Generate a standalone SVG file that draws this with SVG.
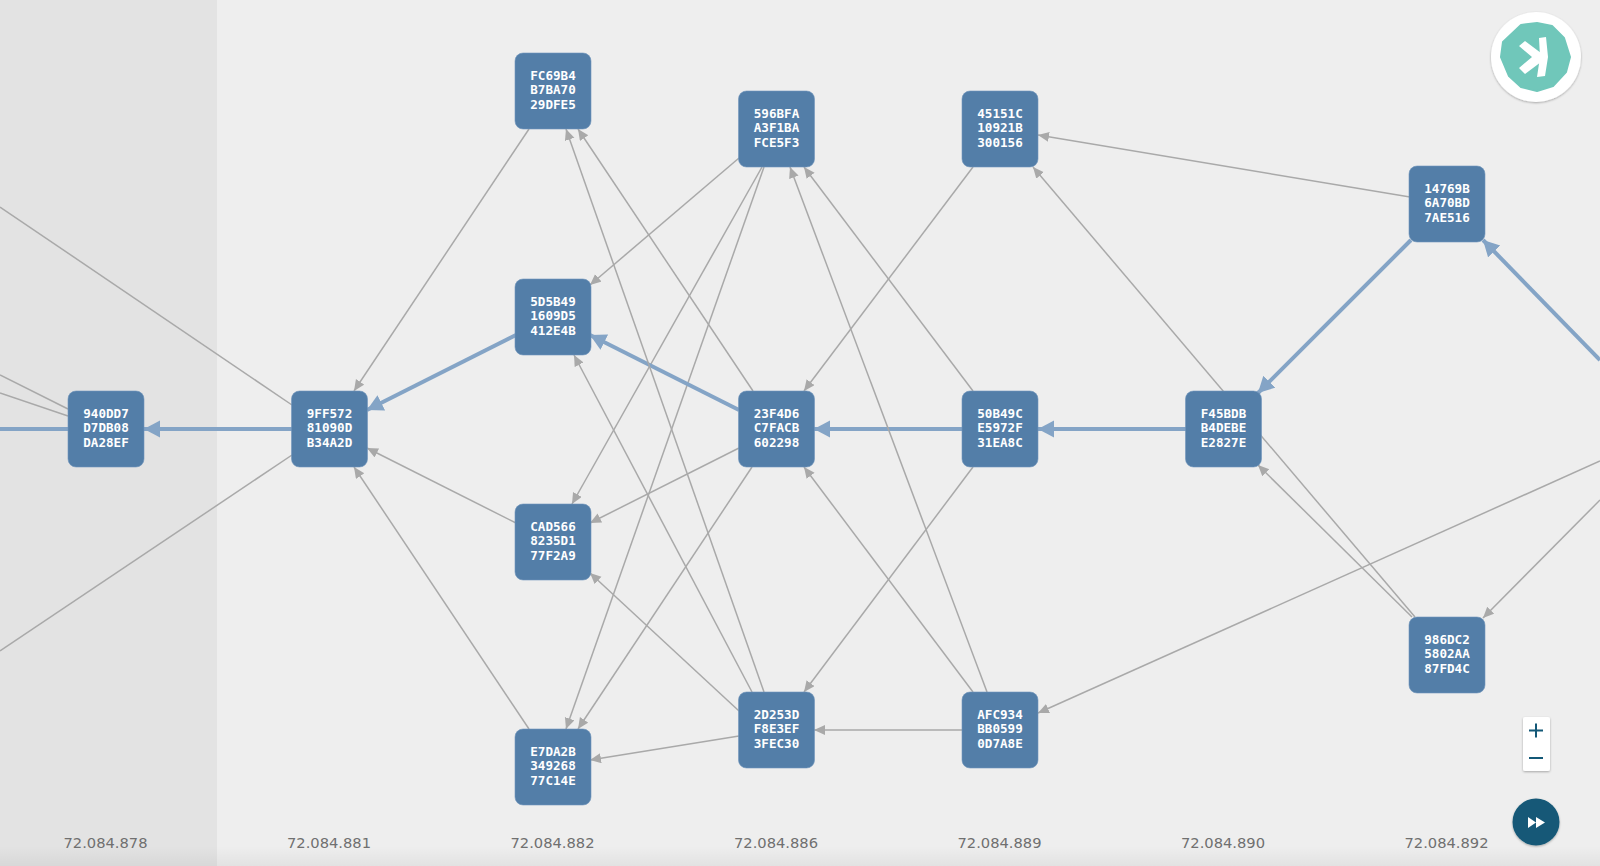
<svg xmlns="http://www.w3.org/2000/svg" width="1600" height="866" viewBox="0 0 1600 866">
<style>
.n rect{fill:#537ea8;stroke:#7096bc;stroke-width:.6}
.n text{font-family:"DejaVu Sans Mono",monospace;font-weight:700;font-size:12.6px;fill:#fff;text-anchor:middle}
.e{stroke:#a9a9a9;stroke-width:1.5;fill:none}
.a{marker-end:url(#g)}
.b{stroke:#84a4c6;stroke-width:4;fill:none}
.ba{marker-end:url(#h)}
.l{font-family:"DejaVu Sans",sans-serif;font-size:14.7px;fill:#707070;text-anchor:middle}
</style>
<defs>
<marker id="g" markerUnits="userSpaceOnUse" markerWidth="12" markerHeight="12" refX="11" refY="5" orient="auto"><path d="M0 0L11 5L0 10Z" fill="#a9a9a9"/></marker>
<marker id="h" markerUnits="userSpaceOnUse" markerWidth="18" markerHeight="18" refX="16" refY="8.500" orient="auto"><path d="M0 0L16 8.500L0 17Z" fill="#84a4c6"/></marker>
<linearGradient id="fade" x1="0" y1="0" x2="0" y2="1"><stop offset="0" stop-color="#000" stop-opacity="0"/><stop offset="1" stop-color="#000" stop-opacity="0.05"/></linearGradient>
<filter id="s" x="-20%" y="-20%" width="140%" height="140%"><feDropShadow dx="0" dy="1" stdDeviation="1" flood-color="#000" flood-opacity="0.3"/></filter>
</defs>
<rect width="1600" height="866" fill="#eeeeee"/>
<rect width="217" height="866" fill="#e3e3e3"/>
<rect y="846" width="1600" height="20" fill="url(#fade)"/>
<g id="connectors">
<path class="e" d="M0 207L292 405"/><path class="e" d="M292 455L0 651"/>
<path class="e" d="M68 409L0 375"/><path class="e" d="M68 416L0 393"/>
<path class="b" d="M68 429H0"/>
<path class="b ba" d="M292 429H144"/>
<path class="e a" d="M529 129L354 391"/>
<path class="b ba" d="M516 335L367 410"/>
<path class="e a" d="M516 523L367 448"/>
<path class="e a" d="M529 729L354 467"/>
<path class="e a" d="M739 158L590 285"/>
<path class="e a" d="M762 167L572 504"/>
<path class="e a" d="M764 167L566 729"/>
<path class="e a" d="M753 391L578 129"/>
<path class="b ba" d="M739 410L590 335"/>
<path class="e a" d="M739 448L590 523"/>
<path class="e a" d="M752 467L578 729"/>
<path class="e a" d="M764 692L566 129"/>
<path class="e a" d="M752 692L574 355"/>
<path class="e a" d="M739 711L590 573"/>
<path class="e a" d="M739 736L590 760"/>
<path class="e a" d="M973 167L804 391"/>
<path class="e a" d="M973 391L804 167"/>
<path class="b ba" d="M962 429H814"/>
<path class="e a" d="M973 467L804 692"/>
<path class="e a" d="M987 692L790 167"/>
<path class="e a" d="M973 692L804 467"/>
<path class="e a" d="M962 730H814"/>
<path class="e a" d="M1415 617L1033 167"/>
<path class="b ba" d="M1186 429H1038"/>
<path class="e a" d="M1410 197L1038 135"/>
<path class="b ba" d="M1411 240L1258 393"/>
<path class="b ba" d="M1600 360L1483 240"/>
<path class="e a" d="M1412 617L1258 465"/>
<path class="e a" d="M1600 500L1483 618"/>
<path class="e a" d="M1600 461L1038 713"/>
</g>
<g id="n940DD7" class="n"><rect x="68" y="391" width="76" height="76" rx="8"/><text x="106" y="417.700">940DD7</text><text x="106" y="432.400">D7DB08</text><text x="106" y="447.100">DA28EF</text></g>
<g id="n9FF572" class="n"><rect x="291.500" y="391" width="76" height="76" rx="8"/><text x="329.500" y="417.700">9FF572</text><text x="329.500" y="432.400">81090D</text><text x="329.500" y="447.100">B34A2D</text></g>
<g id="nFC69B4" class="n"><rect x="515" y="53" width="76" height="76" rx="8"/><text x="553" y="79.700">FC69B4</text><text x="553" y="94.400">B7BA70</text><text x="553" y="109.100">29DFE5</text></g>
<g id="n5D5B49" class="n"><rect x="515" y="279" width="76" height="76" rx="8"/><text x="553" y="305.700">5D5B49</text><text x="553" y="320.400">1609D5</text><text x="553" y="335.100">412E4B</text></g>
<g id="nCAD566" class="n"><rect x="515" y="504" width="76" height="76" rx="8"/><text x="553" y="530.700">CAD566</text><text x="553" y="545.400">8235D1</text><text x="553" y="560.100">77F2A9</text></g>
<g id="nE7DA2B" class="n"><rect x="515" y="729" width="76" height="76" rx="8"/><text x="553" y="755.700">E7DA2B</text><text x="553" y="770.400">349268</text><text x="553" y="785.100">77C14E</text></g>
<g id="n596BFA" class="n"><rect x="738.500" y="91" width="76" height="76" rx="8"/><text x="776.500" y="117.700">596BFA</text><text x="776.500" y="132.400">A3F1BA</text><text x="776.500" y="147.100">FCE5F3</text></g>
<g id="n23F4D6" class="n"><rect x="738.500" y="391" width="76" height="76" rx="8"/><text x="776.500" y="417.700">23F4D6</text><text x="776.500" y="432.400">C7FACB</text><text x="776.500" y="447.100">602298</text></g>
<g id="n2D253D" class="n"><rect x="738.500" y="692" width="76" height="76" rx="8"/><text x="776.500" y="718.700">2D253D</text><text x="776.500" y="733.400">F8E3EF</text><text x="776.500" y="748.100">3FEC30</text></g>
<g id="n45151C" class="n"><rect x="962" y="91" width="76" height="76" rx="8"/><text x="1000" y="117.700">45151C</text><text x="1000" y="132.400">10921B</text><text x="1000" y="147.100">300156</text></g>
<g id="n50B49C" class="n"><rect x="962" y="391" width="76" height="76" rx="8"/><text x="1000" y="417.700">50B49C</text><text x="1000" y="432.400">E5972F</text><text x="1000" y="447.100">31EA8C</text></g>
<g id="nAFC934" class="n"><rect x="962" y="692" width="76" height="76" rx="8"/><text x="1000" y="718.700">AFC934</text><text x="1000" y="733.400">BB0599</text><text x="1000" y="748.100">0D7A8E</text></g>
<g id="nF45BDB" class="n"><rect x="1185.500" y="391" width="76" height="76" rx="8"/><text x="1223.500" y="417.700">F45BDB</text><text x="1223.500" y="432.400">B4DEBE</text><text x="1223.500" y="447.100">E2827E</text></g>
<g id="n14769B" class="n"><rect x="1409" y="166" width="76" height="76" rx="8"/><text x="1447" y="192.700">14769B</text><text x="1447" y="207.400">6A70BD</text><text x="1447" y="222.100">7AE516</text></g>
<g id="n986DC2" class="n"><rect x="1409" y="617" width="76" height="76" rx="8"/><text x="1447" y="643.700">986DC2</text><text x="1447" y="658.400">5802AA</text><text x="1447" y="673.100">87FD4C</text></g>
<g id="labels">
<text class="l" x="105.500" y="848.300">72.084.878</text><text class="l" x="329" y="848.300">72.084.881</text><text class="l" x="552.500" y="848.300">72.084.882</text><text class="l" x="776" y="848.300">72.084.886</text><text class="l" x="999.500" y="848.300">72.084.889</text><text class="l" x="1223" y="848.300">72.084.890</text><text class="l" x="1446.500" y="848.300">72.084.892</text>
</g>
<g id="logo">
<circle cx="1536" cy="57" r="45" fill="#fff" filter="url(#s)"/>
<path d="M1521 25L1537 23L1552 26L1564 38L1570 57L1566 72L1553 86L1537 91L1521 87L1509 76L1501 57L1503 42Z" fill="#70c7ba" stroke="#70c7ba" stroke-width="2" stroke-linejoin="round"/>
<path d="M1539 38L1546 37L1548 57L1545 76L1537 77L1540 57Z" fill="#fff"/>
<path d="M1519 46L1525 41L1541 53V62L1525 74L1519 68L1532 57Z" fill="#fff"/>
</g>
<g id="zoom">
<rect x="1523" y="717" width="27" height="54" rx="2" fill="#fff" filter="url(#s)"/>
<path d="M1529 730.500H1543M1536 723.500V737.500M1529 758H1543" stroke="#135877" stroke-width="2" fill="none"/>
</g>
<g id="fast-forward">
<circle cx="1536" cy="822" r="23.500" fill="#135877" filter="url(#s)"/>
<path d="M1528 817L1536 822.500L1528 828ZM1536 817L1545 822.500L1536 828Z" fill="#fff"/>
</g>
</svg>
